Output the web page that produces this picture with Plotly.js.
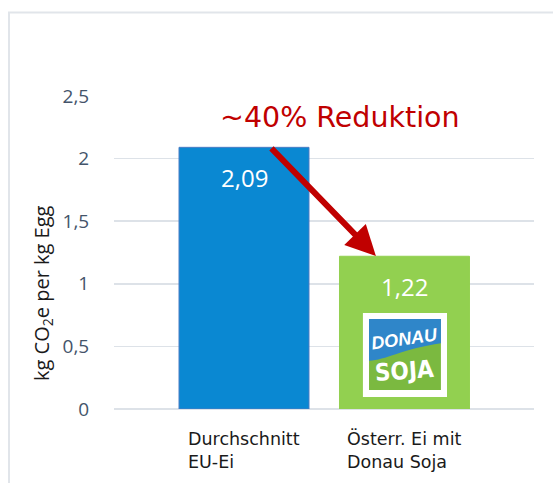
<!DOCTYPE html>
<html>
<head>
<meta charset="utf-8">
<script src="https://cdn.plot.ly/plotly-3.0.1.min.js"></script>
<style>html,body{margin:0;padding:0;background:#fff;}#chart{width:553px;height:483px;}</style>
</head>
<body>
<div id="chart"></div>
<script>
// ---- data ----
var categories = ["Durchschnitt<br>EU-Ei", "Österr. Ei mit<br>Donau Soja"];
var values = [2.09, 1.22];
var valueLabels = ["2,09", "1,22"];
var barColors = ["#0A88D2", "#92D050"];
var yTickVals = [0, 0.5, 1, 1.5, 2, 2.5];
var yTickText = ["0", "0,5", "1", "1,5", "2", "2,5"];
var yTitle = "kg CO<sub>2</sub>e per kg Egg";
var reductionText = "~40% Reduktion";

var xPos = categories.map(function(c, i){ return i; });

var trace = {
  type: "bar",
  x: xPos,
  y: values,
  width: 0.81,
  marker: {color: barColors, line: {color: ["#4A7CC4", "#92D050"], width: 1}},
  hoverinfo: "none"
};

var annotations = [];
// category labels
categories.forEach(function(c, i){
  annotations.push({
    x: i, y: -0.131, xref: "x", yref: "paper", text: c, showarrow: false,
    align: "left", xanchor: "center", yanchor: "middle",
    font: {family: "DejaVu Sans, Verdana, sans-serif", size: 17.5, color: "#1a1a1a"}
  });
});
// value labels
values.forEach(function(v, i){
  annotations.push({
    x: i, y: v, xref: "x", yref: "y", text: valueLabels[i], showarrow: false,
    xanchor: "center", yanchor: "middle", yshift: -30,
    font: {family: "Open Sans, sans-serif", size: 24, color: "#ffffff"}
  });
});
// y title
annotations.push({
  x: -0.169, xref: "paper", y: 0.927, yref: "y", text: yTitle, showarrow: false,
  textangle: -90, xanchor: "center", yanchor: "middle",
  font: {family: "Open Sans, sans-serif", size: 20, color: "#1a1a1a"}
});
// reduction text
annotations.push({
  x: 0.598, y: 2.33, xref: "x", yref: "y", text: reductionText, showarrow: false,
  xanchor: "center", yanchor: "middle",
  font: {family: "DejaVu Sans, Verdana, sans-serif", size: 28.5, color: "#C00000"}
});
// arrow
annotations.push({
  x: 0.822, y: 1.222, xref: "x", yref: "y",
  ax: 0.162, ay: 2.093, axref: "x", ayref: "y",
  text: "", showarrow: true, arrowhead: 2, arrowsize: 1, arrowwidth: 6,
  arrowcolor: "#C00000", standoff: 0, startstandoff: 0
});
// logo text
annotations.push({
  x: 1.0, y: 0.56, xref: "x", yref: "y", text: "<b><i>DONAU</i></b>", showarrow: false,
  textangle: -8, xanchor: "center", yanchor: "middle",
  font: {family: "Liberation Sans, Arial, sans-serif", size: 18, color: "#ffffff"}
});
annotations.push({
  x: 1.0, y: 0.30, xref: "x", yref: "y", text: "<b>SOJA</b>", showarrow: false,
  textangle: -4, xanchor: "center", yanchor: "middle",
  font: {family: "DejaVu Sans Condensed, Liberation Sans Narrow, sans-serif", size: 24, color: "#ffffff"}
});

var shapes = [
  // outer frame
  {type: "rect", xref: "paper", yref: "paper", x0: -0.2500, x1: 1.3, y0: -0.5, y1: 1.2665,
   line: {color: "#E1E5EA", width: 2}, fillcolor: "rgba(0,0,0,0)", layer: "below"},
  // logo white square
  {type: "rect", xref: "x", yref: "y", x0: 0.741, x1: 1.265, y0: 0.096, y1: 0.767,
   line: {width: 0}, fillcolor: "#ffffff"},
  // green part
  {type: "rect", xref: "x", yref: "y", x0: 0.779, x1: 1.227, y0: 0.152, y1: 0.719,
   line: {width: 0}, fillcolor: "#7BB940"},
  // blue part with wavy bottom
  {type: "path", xref: "x", yref: "y",
   path: "M0.779,0.719 L1.227,0.719 L1.227,0.525 C1.12,0.505 1.02,0.47 0.95,0.44 C0.88,0.41 0.83,0.39 0.779,0.385 Z",
   line: {width: 0}, fillcolor: "#2F86C9"}
];

var layout = {
  width: 553, height: 483,
  margin: {l: 114, r: 19, t: 96, b: 74, pad: 0},
  paper_bgcolor: "#ffffff", plot_bgcolor: "#ffffff",
  separators: ", ",
  showlegend: false,
  bargap: 0.19,
  xaxis: {range: [-0.81, 1.807], showticklabels: false, showgrid: false, zeroline: false,
          showline: false, ticks: "", fixedrange: true},
  yaxis: {range: [0, 2.5], tickvals: yTickVals, ticktext: yTickText,
          showgrid: true, gridcolor: "#DDE2E8", gridwidth: 1.5,
          zeroline: true, zerolinecolor: "#DDE2E8", zerolinewidth: 1.5,
          showline: false, ticks: "outside", ticklen: 20, tickcolor: "rgba(0,0,0,0)",
          tickfont: {family: "Open Sans, sans-serif", size: 19, color: "#44546A"},
          fixedrange: true},
  annotations: annotations,
  shapes: shapes
};

Plotly.newPlot("chart", [trace], layout, {displayModeBar: false, staticPlot: true});
</script>
</body>
</html>
